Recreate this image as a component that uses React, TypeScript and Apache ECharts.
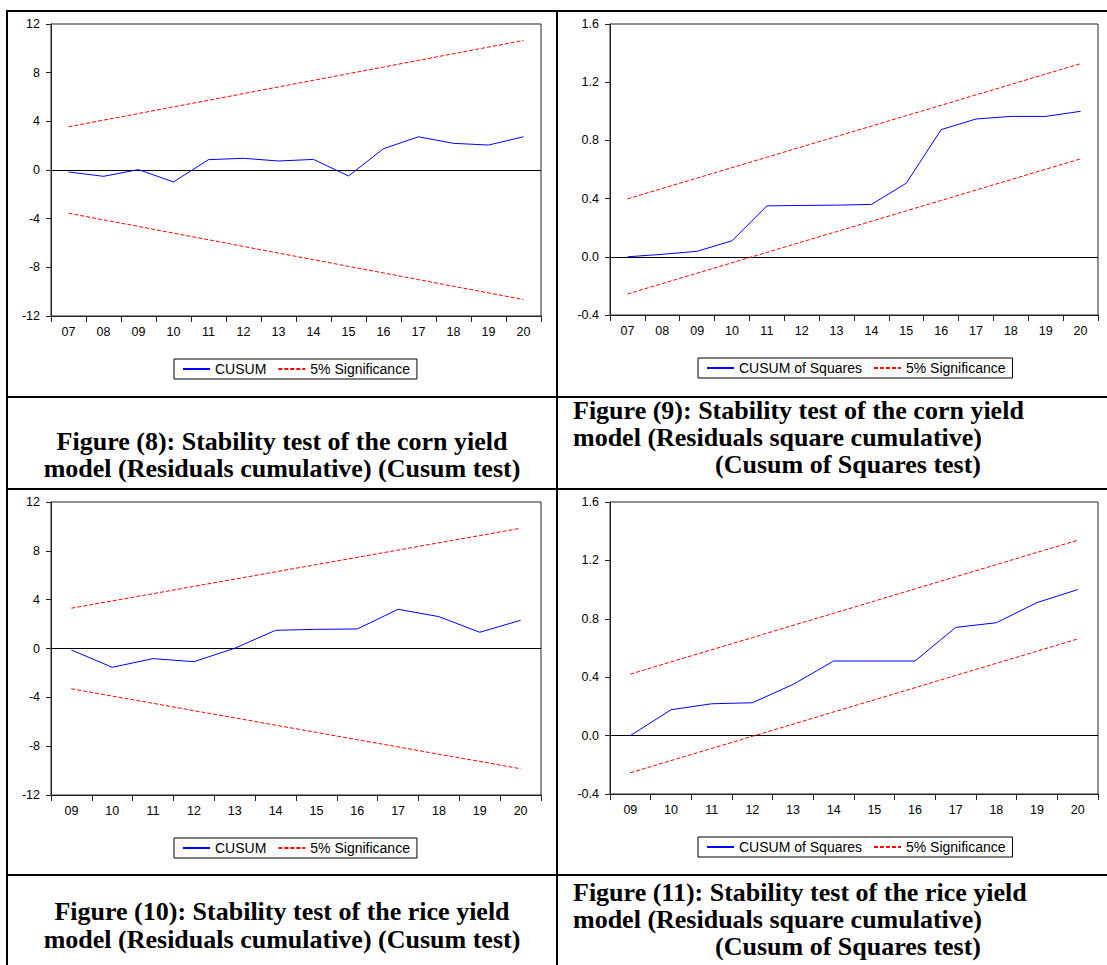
import React, { useEffect, useRef } from "react";
import * as echarts from "echarts";

// ---- data ----
const yearsCorn = ["07", "08", "09", "10", "11", "12", "13", "14", "15", "16", "17", "18", "19", "20"];
const yearsRice = ["09", "10", "11", "12", "13", "14", "15", "16", "17", "18", "19", "20"];

const cornCusum = [-0.16, -0.52, 0.03, -0.98, 0.85, 0.96, 0.74, 0.87, -0.49, 1.75, 2.73, 2.19, 2.05, 2.73];
const cornCusumUpper = [3.55, 4.1, 4.64, 5.19, 5.73, 6.28, 6.83, 7.37, 7.92, 8.46, 9.01, 9.56, 10.1, 10.65];
const cornCusumLower = [-3.55, -4.1, -4.64, -5.19, -5.73, -6.28, -6.83, -7.37, -7.92, -8.46, -9.01, -9.56, -10.1, -10.65];

const cornCusumSq = [0.0, 0.017, 0.038, 0.11, 0.35, 0.353, 0.355, 0.36, 0.506, 0.874, 0.947, 0.965, 0.965, 1.0];
const cornCusumSqUpper = [0.398, 0.47, 0.541, 0.613, 0.684, 0.756, 0.827, 0.898, 0.97, 1.041, 1.113, 1.184, 1.256, 1.327];
const cornCusumSqLower = [-0.256, -0.184, -0.113, -0.041, 0.03, 0.102, 0.173, 0.244, 0.316, 0.387, 0.459, 0.53, 0.602, 0.673];

const riceCusum = [-0.12, -1.54, -0.83, -1.08, 0.02, 1.49, 1.57, 1.6, 3.21, 2.61, 1.33, 2.31];
const riceCusumUpper = [3.3, 3.9, 4.49, 5.09, 5.68, 6.28, 6.87, 7.47, 8.06, 8.66, 9.25, 9.85];
const riceCusumLower = [-3.3, -3.9, -4.49, -5.09, -5.68, -6.28, -6.87, -7.47, -8.06, -8.66, -9.25, -9.85];

const riceCusumSq = [0.0, 0.177, 0.218, 0.225, 0.35, 0.511, 0.511, 0.511, 0.741, 0.773, 0.911, 1.0];
const riceCusumSqUpper = [0.421, 0.505, 0.588, 0.671, 0.755, 0.838, 0.921, 1.005, 1.088, 1.171, 1.255, 1.338];
const riceCusumSqLower = [-0.255, -0.171, -0.088, -0.005, 0.078, 0.162, 0.245, 0.328, 0.412, 0.495, 0.578, 0.662];

const cusumTicks = { min: -12, max: 12, interval: 4 };
const cusumSqTicks = { min: -0.4, max: 1.6, interval: 0.4 };

const captions = [
  { lines: ["Figure (8): Stability test of the corn yield", "model (Residuals cumulative) (Cusum test)"] },
  { lines: ["Figure (9): Stability test of the corn yield", "model (Residuals square cumulative)", "(Cusum of Squares test)"] },
  { lines: ["Figure (10): Stability test of the rice yield", "model (Residuals cumulative) (Cusum test)"] },
  { lines: ["Figure (11): Stability test of the rice yield", "model (Residuals square cumulative)", "(Cusum of Squares test)"] },
];

const SANS = '"Liberation Sans", Arial, sans-serif';
const SERIF = '"Liberation Serif", "Times New Roman", serif';
const FRAME = "#222";

const grids = [
  { left: 51, top: 24, width: 490, height: 292 },
  { left: 610, top: 24, width: 488, height: 291 },
  { left: 51, top: 502, width: 490, height: 293 },
  { left: 610, top: 502, width: 488, height: 292 },
];

const legendPos = [
  { left: 174, top: 359 },
  { left: 698, top: 358 },
  { left: 174, top: 838 },
  { left: 698, top: 837 },
];

function xAxis(i: number, data: string[]) {
  return {
    type: "category",
    gridIndex: i,
    data,
    boundaryGap: true,
    axisLine: { show: true, onZero: false, lineStyle: { color: FRAME, width: 1 } },
    axisTick: { show: true, length: 6, lineStyle: { color: FRAME } },
    axisLabel: { fontSize: 12.5, color: "#000", margin: 9, fontFamily: SANS, interval: 0 },
    splitLine: { show: false },
  };
}

function yAxis(i: number, t: { min: number; max: number; interval: number }, dec: number) {
  return {
    type: "value",
    gridIndex: i,
    min: t.min,
    max: t.max,
    interval: t.interval,
    axisLine: { show: true, lineStyle: { color: FRAME, width: 1 } },
    axisTick: { show: true, length: 5, lineStyle: { color: FRAME } },
    axisLabel: {
      fontSize: 12.5,
      color: "#000",
      margin: 11,
      fontFamily: SANS,
      formatter: (v: number) => v.toFixed(dec),
    },
    splitLine: { show: false },
  };
}

function mainSeries(i: number, name: string, data: number[]) {
  return {
    type: "line",
    name,
    xAxisIndex: i,
    yAxisIndex: i,
    data,
    symbol: "none",
    showSymbol: false,
    lineStyle: { color: "#0000ff", width: 1 },
    itemStyle: { color: "#0000ff" },
    z: 3,
    markLine: {
      silent: true,
      symbol: "none",
      label: { show: false },
      lineStyle: { color: "#000", type: "solid", width: 1 },
      data: [{ yAxis: 0 }],
      z: 2,
    },
  };
}

function boundSeries(i: number, data: number[]) {
  return {
    type: "line",
    name: "5% Significance",
    xAxisIndex: i,
    yAxisIndex: i,
    data,
    symbol: "none",
    showSymbol: false,
    lineStyle: { color: "#ff0000", width: 1, type: [4, 2] },
    itemStyle: { color: "#ff0000" },
    z: 3,
  };
}

function legend(i: number, first: string) {
  return {
    show: true,
    data: [first, "5% Significance"],
    left: legendPos[i].left,
    top: legendPos[i].top,
    orient: "horizontal",
    itemWidth: 27,
    itemHeight: 14,
    itemGap: 11,
    padding: [3, 7, 3, 8],
    borderColor: "#000",
    borderWidth: 1,
    backgroundColor: "#fff",
    selectedMode: false,
    itemStyle: { opacity: 0 },
    textStyle: { fontSize: 14, color: "#000", fontFamily: SANS },
  };
}

function line(x1: number, y1: number, x2: number, y2: number) {
  return {
    type: "line",
    shape: { x1, y1, x2, y2 },
    style: { stroke: "#000", lineWidth: 2 },
    silent: true,
  };
}

function captionText(text: string, x: number, y: number, align: string) {
  return {
    type: "text",
    x,
    y,
    silent: true,
    style: {
      text,
      font: `bold 26px ${SERIF}`,
      fill: "#000",
      align,
      verticalAlign: "middle",
      textAlign: align,
      textVerticalAlign: "middle",
    },
  };
}

export default function App() {
  const ref = useRef<HTMLDivElement>(null);

  useEffect(() => {
    if (!ref.current) return;
    const chart = echarts.init(ref.current, undefined, { renderer: "svg" });

    const graphics: any[] = [
      line(6, 11, 1107, 11),
      line(7, 10, 7, 965),
      line(557, 10, 557, 965),
      line(6, 397, 1107, 397),
      line(6, 489, 1107, 489),
      line(6, 875, 1107, 875),
    ];
    // captions
    const c8 = [441, 468];
    captions[0].lines.forEach((t, k) => graphics.push(captionText(t, 282, c8[k], "center")));
    const c9 = [410, 437, 464];
    captions[1].lines.forEach((t, k) => graphics.push(captionText(t, k === 2 ? 715 : 573, c9[k], "left")));
    const c10 = [911, 939];
    captions[2].lines.forEach((t, k) => graphics.push(captionText(t, 282, c10[k], "center")));
    const c11 = [892, 919, 946];
    captions[3].lines.forEach((t, k) => graphics.push(captionText(t, k === 2 ? 715 : 573, c11[k], "left")));

    chart.setOption({
      animation: false,
      backgroundColor: "#fff",
      grid: grids.map((g) => ({ ...g, show: true, borderColor: FRAME, borderWidth: 1, backgroundColor: "transparent" })),
      xAxis: [xAxis(0, yearsCorn), xAxis(1, yearsCorn), xAxis(2, yearsRice), xAxis(3, yearsRice)],
      yAxis: [yAxis(0, cusumTicks, 0), yAxis(1, cusumSqTicks, 1), yAxis(2, cusumTicks, 0), yAxis(3, cusumSqTicks, 1)],
      legend: [legend(0, "CUSUM"), legend(1, "CUSUM of Squares"), legend(2, "CUSUM"), legend(3, "CUSUM of Squares")],
      series: [
        mainSeries(0, "CUSUM", cornCusum),
        boundSeries(0, cornCusumUpper),
        boundSeries(0, cornCusumLower),
        mainSeries(1, "CUSUM of Squares", cornCusumSq),
        boundSeries(1, cornCusumSqUpper),
        boundSeries(1, cornCusumSqLower),
        mainSeries(2, "CUSUM", riceCusum),
        boundSeries(2, riceCusumUpper),
        boundSeries(2, riceCusumLower),
        mainSeries(3, "CUSUM of Squares", riceCusumSq),
        boundSeries(3, riceCusumSqUpper),
        boundSeries(3, riceCusumSqLower),
      ],
      graphic: graphics,
    });

    return () => chart.dispose();
  }, []);

  return (
    <div
      ref={ref}
      style={{ position: "absolute", left: 0, top: 0, width: 1107, height: 965, background: "#fff" }}
    />
  );
}
